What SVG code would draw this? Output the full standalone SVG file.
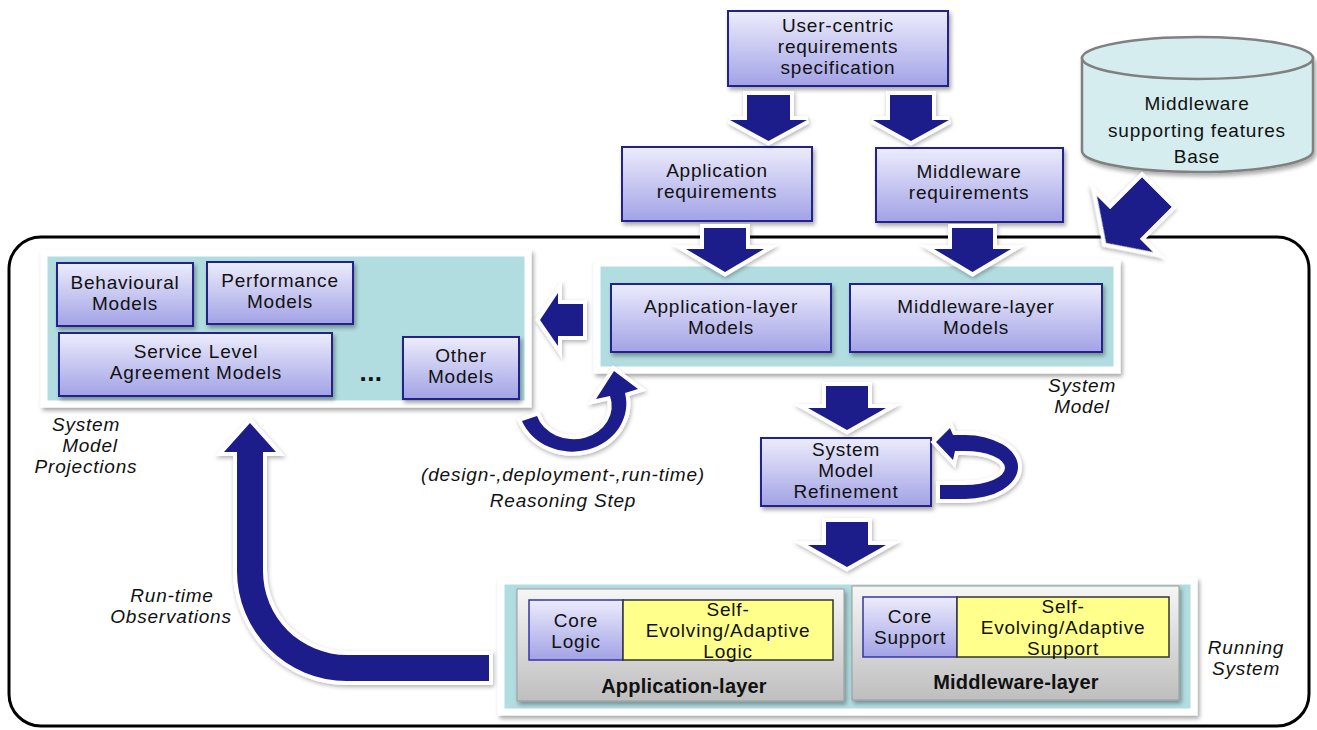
<svg xmlns="http://www.w3.org/2000/svg" width="1317" height="730" viewBox="0 0 1317 730">
<defs>
<linearGradient id="gBlue" x1="0" y1="0" x2="0" y2="1"><stop offset="0" stop-color="#ECECFC"/><stop offset="1" stop-color="#A2A2E6"/></linearGradient>
<linearGradient id="gGray" x1="0" y1="0" x2="0" y2="1"><stop offset="0" stop-color="#F6F6F6"/><stop offset="1" stop-color="#BEBEBE"/></linearGradient>
<filter id="sh" x="-10%" y="-10%" width="130%" height="140%"><feDropShadow dx="2" dy="3" stdDeviation="2" flood-color="#000" flood-opacity="0.35"/></filter>
<filter id="ash" x="-20%" y="-20%" width="150%" height="150%"><feDropShadow dx="1" dy="2" stdDeviation="2" flood-color="#000" flood-opacity="0.3"/></filter>
</defs>
<style>
.node{fill:url(#gBlue);stroke:#24248E;stroke-width:2;filter:url(#sh)}
.panel{fill:#B2DDE0;stroke:#fff;stroke-width:7;filter:url(#sh)}
.gray{fill:url(#gGray);stroke:#9a9a9a;stroke-width:1;filter:url(#sh)}
.yel{fill:#FFFF8C;stroke:#333;stroke-width:1.5}
.core{fill:url(#gBlue);stroke:#3434A8;stroke-width:1.5}
.arr{fill:#1A1A8A;stroke:#fff;stroke-width:8;stroke-linejoin:miter;paint-order:stroke;filter:url(#ash)}
.t{font-family:"Liberation Sans",Arial,sans-serif;font-size:19px;letter-spacing:0.8px;fill:#111;text-anchor:middle}
.b{font-weight:bold;font-size:20px;letter-spacing:0.2px}
.dots{font-weight:bold;font-size:26px;letter-spacing:0.5px}
.i{font-style:italic}
</style>

<rect id="frame" x="9" y="237" width="1300" height="489" rx="32" fill="none" stroke="#000" stroke-width="3"/>

<g id="user-req">
<rect class="node" x="728" y="11" width="220" height="75"/>
<text class="t" x="838" y="32">User-centric</text>
<text class="t" x="838" y="53">requirements</text>
<text class="t" x="838" y="74">specification</text>
</g>

<g id="app-req">
<rect class="node" x="622" y="147" width="190" height="74"/>
<text class="t" x="717" y="177">Application</text>
<text class="t" x="717" y="198">requirements</text>
</g>

<g id="mw-req">
<rect class="node" x="876" y="148" width="187" height="74"/>
<text class="t" x="969" y="178">Middleware</text>
<text class="t" x="969" y="199">requirements</text>
</g>

<g id="mw-base">
<path d="M1082,58 L1082,151 A115.5,21 0 0 0 1313,151 L1313,58 Z" fill="#D5EDEF" stroke="#808080" stroke-width="2.5" filter="url(#sh)"/>
<ellipse cx="1197.5" cy="58" rx="115.5" ry="21" fill="#D5EDEF" stroke="#808080" stroke-width="2.5"/>
<text class="t" x="1197" y="110">Middleware</text>
<text class="t" x="1197" y="137">supporting features</text>
<text class="t" x="1197" y="163">Base</text>
</g>

<g id="system-model">
<rect class="panel" x="597" y="263" width="520" height="107"/>
<rect class="node" x="611" y="284" width="220" height="68"/>
<text class="t" x="721" y="313">Application-layer</text>
<text class="t" x="721" y="334">Models</text>
<rect class="node" x="850" y="284" width="252" height="68"/>
<text class="t" x="976" y="313">Middleware-layer</text>
<text class="t" x="976" y="334">Models</text>
<text class="t i" x="1082" y="392">System</text>
<text class="t i" x="1082" y="413">Model</text>
</g>

<g id="projections">
<rect class="panel" x="44" y="253" width="484" height="151"/>
<rect class="node" x="57" y="263" width="136" height="63"/>
<text class="t" x="125" y="289">Behavioural</text>
<text class="t" x="125" y="310">Models</text>
<rect class="node" x="207" y="262" width="146" height="62"/>
<text class="t" x="280" y="287">Performance</text>
<text class="t" x="280" y="308">Models</text>
<rect class="node" x="59" y="333" width="273" height="63"/>
<text class="t" x="196" y="358">Service Level</text>
<text class="t" x="196" y="379">Agreement Models</text>
<text class="t dots" x="371" y="381">...</text>
<rect class="node" x="403" y="337" width="116" height="62"/>
<text class="t" x="461" y="362">Other</text>
<text class="t" x="461" y="383">Models</text>
<text class="t i" x="86" y="431">System</text>
<text class="t i" x="90" y="452">Model</text>
<text class="t i" x="86" y="473">Projections</text>
</g>

<g id="refinement">
<rect class="node" x="761" y="438" width="170" height="68"/>
<text class="t" x="846" y="456">System</text>
<text class="t" x="846" y="477">Model</text>
<text class="t" x="846" y="498">Refinement</text>
</g>

<g id="running-system">
<rect class="panel" x="501" y="581" width="693" height="131"/>
<rect class="gray" x="517" y="589" width="327" height="112"/>
<rect class="core" x="529" y="600" width="94" height="60"/>
<rect class="yel" x="623" y="600" width="210" height="60"/>
<text class="t" x="576" y="627">Core</text>
<text class="t" x="576" y="648">Logic</text>
<text class="t" x="728" y="616">Self-</text>
<text class="t" x="728" y="637">Evolving/Adaptive</text>
<text class="t" x="728" y="658">Logic</text>
<text class="t b" x="684" y="693">Application-layer</text>
<rect class="gray" x="852" y="586" width="327" height="114"/>
<rect class="core" x="863" y="597" width="94" height="60"/>
<rect class="yel" x="957" y="597" width="212" height="60"/>
<text class="t" x="910" y="623">Core</text>
<text class="t" x="910" y="644">Support</text>
<text class="t" x="1063" y="613">Self-</text>
<text class="t" x="1063" y="634">Evolving/Adaptive</text>
<text class="t" x="1063" y="655">Support</text>
<text class="t b" x="1016" y="689">Middleware-layer</text>
<text class="t i" x="1246" y="654">Running</text>
<text class="t i" x="1246" y="675">System</text>
</g>

<g id="labels">
<text class="t i" x="563" y="481">(design-,deployment-,run-time)</text>
<text class="t i" x="563" y="507">Reasoning Step</text>
<text class="t i" x="172" y="602">Run-time</text>
<text class="t i" x="171" y="623">Observations</text>
</g>

<g id="connectors">
<path class="arr" d="M747,95 H790 V120 H807 L768.5,141 L730,120 H747 Z"/>
<path class="arr" d="M890,95 H932 V120 H949 L911,141 L873,120 H890 Z"/>
<path class="arr" d="M704,228 H746 V249 H764 L725,272 L686,249 H704 Z"/>
<path class="arr" d="M952,228 H993 V249 H1011 L972.5,272 L934,249 H952 Z"/>
<path class="arr" d="M-21,-72 H21 V-27 H40 L0,0 L-40,-27 H-21 Z" transform="translate(1106,243) rotate(45)"/>
<path class="arr" d="M583,304 V336 H558 V346 L540,320 L558,293 V304 Z"/>
<path class="arr" d="M826,386 H868 V408 H886 L847,430 L808,408 H826 Z"/>
<path class="arr" d="M826,522 H868 V545 H886 L847,567 L808,545 H826 Z"/>
<path class="arr" d="M522,421 A54,48 0 0 0 625,393 L638,389 L614,371 L596,399 L610,396 A38,33 0 0 1 537,416 Z"/>
<path class="arr" d="M940,485 L965,485 A40,17 0 0 0 965,451 L955,451 L953,460 L936,442 L950,428 L953,435 L965,435 A53,32 0 0 1 965,499 L940,499 Z"/>
<path class="arr" d="M489,655 L347,655 A84,84 0 0 1 263,571 L263,452 L276,452 L250,423 L224,452 L237,452 L237,571 A110,110 0 0 0 347,681 L489,681 Z"/>
</g>
</svg>
